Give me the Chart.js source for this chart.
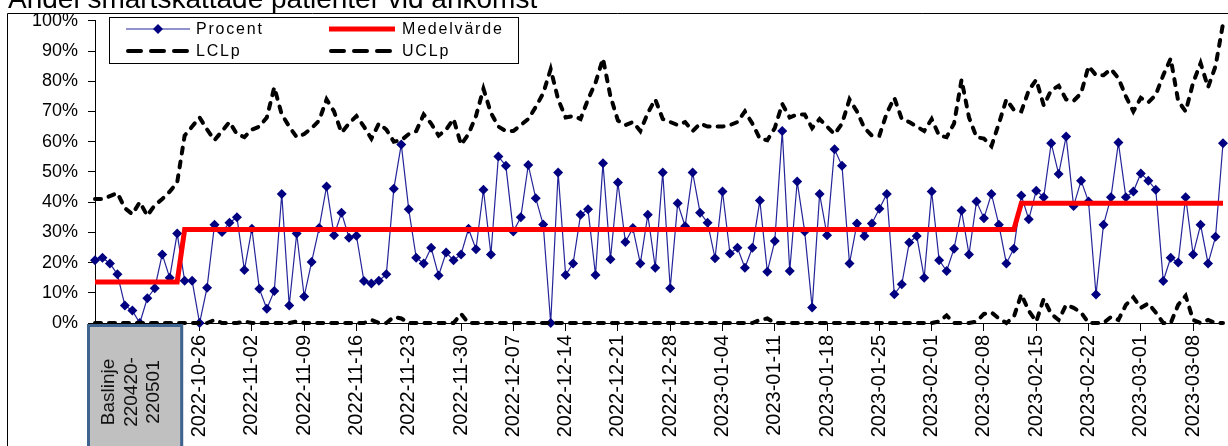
<!DOCTYPE html>
<html>
<head>
<meta charset="utf-8">
<script src="https://cdn.jsdelivr.net/npm/chart.js@4.4.1/dist/chart.umd.min.js"></script>
<style>
  html, body { margin: 0; padding: 0; background: #fff; overflow: hidden; }
  #c { display: block; }
</style>
</head>
<body>
<canvas id="c" width="1228" height="446"></canvas>
<script>
// baseline days (one group on the axis) followed by the daily measurements
const baselineDays = ['220420', '220421', '220422', '220423', '220424', '220425', '220426', '220427', '220428', '220429', '220430', '220501'];
const days = [
  '2022-10-24', '2022-10-25', '2022-10-26', '2022-10-27', '2022-10-28', '2022-10-29', '2022-10-30', '2022-10-31',
  '2022-11-01', '2022-11-02', '2022-11-03', '2022-11-04', '2022-11-05', '2022-11-06', '2022-11-07', '2022-11-08', '2022-11-09', '2022-11-10',
  '2022-11-11', '2022-11-12', '2022-11-13', '2022-11-14', '2022-11-15', '2022-11-16', '2022-11-17', '2022-11-18', '2022-11-19', '2022-11-20',
  '2022-11-21', '2022-11-22', '2022-11-23', '2022-11-24', '2022-11-25', '2022-11-26', '2022-11-27', '2022-11-28', '2022-11-29', '2022-11-30',
  '2022-12-01', '2022-12-02', '2022-12-03', '2022-12-04', '2022-12-05', '2022-12-06', '2022-12-07', '2022-12-08', '2022-12-09', '2022-12-10',
  '2022-12-11', '2022-12-12', '2022-12-13', '2022-12-14', '2022-12-15', '2022-12-16', '2022-12-17', '2022-12-18', '2022-12-19', '2022-12-20',
  '2022-12-21', '2022-12-22', '2022-12-23', '2022-12-24', '2022-12-25', '2022-12-26', '2022-12-27', '2022-12-28', '2022-12-29', '2022-12-30', '2022-12-31',
  '2023-01-01', '2023-01-02', '2023-01-03', '2023-01-04', '2023-01-05', '2023-01-06', '2023-01-07', '2023-01-08', '2023-01-09', '2023-01-10',
  '2023-01-11', '2023-01-12', '2023-01-13', '2023-01-14', '2023-01-15', '2023-01-16', '2023-01-17', '2023-01-18', '2023-01-19', '2023-01-20',
  '2023-01-21', '2023-01-22', '2023-01-23', '2023-01-24', '2023-01-25', '2023-01-26', '2023-01-27', '2023-01-28', '2023-01-29', '2023-01-30', '2023-01-31',
  '2023-02-01', '2023-02-02', '2023-02-03', '2023-02-04', '2023-02-05', '2023-02-06', '2023-02-07', '2023-02-08', '2023-02-09', '2023-02-10',
  '2023-02-11', '2023-02-12', '2023-02-13', '2023-02-14', '2023-02-15', '2023-02-16', '2023-02-17', '2023-02-18', '2023-02-19', '2023-02-20',
  '2023-02-21', '2023-02-22', '2023-02-23', '2023-02-24', '2023-02-25', '2023-02-26', '2023-02-27', '2023-02-28',
  '2023-03-01', '2023-03-02', '2023-03-03', '2023-03-04', '2023-03-05', '2023-03-06', '2023-03-07', '2023-03-08', '2023-03-09', '2023-03-10',
  '2023-03-11', '2023-03-12'
];
const categories = baselineDays.concat(days);

// dates that get a label on the x axis
const tickLabels = [
  '2022-10-26', '2022-11-02', '2022-11-09', '2022-11-16', '2022-11-23', '2022-11-30', '2022-12-07', '2022-12-14',
  '2022-12-21', '2022-12-28', '2023-01-04', '2023-01-11', '2023-01-18', '2023-01-25', '2023-02-01', '2023-02-08',
  '2023-02-15', '2023-02-22', '2023-03-01', '2023-03-08'
];
const baselineTitle = ['Baslinje', '220420-', '220501'];
const yTicks = [0, 10, 20, 30, 40, 50, 60, 70, 80, 90, 100];

const procent = [
  20.8, 21.6, 19.7, 16.1, 5.8, 4.1, 0, 8.2, 11.5, 22.7,
  15.0, 29.6, 14.0, 14.0, 0, 11.7, 32.5, 30.1, 33.2, 35.0,
  17.5, 31.2, 11.3, 4.7, 10.6, 42.7, 5.8, 29.6, 8.8, 20.2,
  31.4, 45.2, 29.0, 36.5, 28.2, 28.9, 13.9, 13.1, 14.0, 16.1,
  44.4, 59.1, 37.6, 21.6, 19.7, 24.9, 15.7, 23.3, 20.8, 22.7,
  31.2, 24.4, 44.1, 22.7, 55.1, 52.0, 30.3, 35.0, 52.3, 41.3,
  32.6, 0, 49.8, 15.9, 19.7, 35.8, 37.6, 15.9, 52.9, 21.1,
  46.5, 26.8, 31.4, 19.7, 35.8, 18.3, 49.8, 11.5, 39.6, 32.0,
  49.8, 36.5, 33.2, 21.4, 43.5, 23.0, 24.9, 18.3, 24.9, 40.5,
  17.0, 27.1, 63.5, 17.2, 46.8, 30.3, 5.1, 42.7, 29.0, 57.5,
  52.0, 19.7, 32.9, 28.8, 32.9, 37.8, 42.7, 9.5, 12.8, 26.6,
  28.8, 15.0, 43.5, 20.8, 17.2, 24.6, 37.2, 22.7, 40.2, 34.7,
  42.7, 32.5, 19.7, 24.6, 42.2, 34.3, 43.8, 41.6, 59.5, 49.3,
  61.7, 38.7, 47.1, 40.2, 9.4, 32.5, 41.6, 59.7, 41.6, 43.5,
  49.5, 47.1, 44.1, 13.9, 21.6, 20.0, 41.6, 22.7, 32.5, 19.7, 28.5, 59.5
];

const medelvarde = [
  13.6, 13.6, 13.6, 13.6, 13.6, 13.6, 13.6, 13.6, 13.6, 13.6,
  13.6, 13.6, 30.9, 30.9, 30.9, 30.9, 30.9, 30.9, 30.9, 30.9,
  30.9, 30.9, 30.9, 30.9, 30.9, 30.9, 30.9, 30.9, 30.9, 30.9,
  30.9, 30.9, 30.9, 30.9, 30.9, 30.9, 30.9, 30.9, 30.9, 30.9,
  30.9, 30.9, 30.9, 30.9, 30.9, 30.9, 30.9, 30.9, 30.9, 30.9,
  30.9, 30.9, 30.9, 30.9, 30.9, 30.9, 30.9, 30.9, 30.9, 30.9,
  30.9, 30.9, 30.9, 30.9, 30.9, 30.9, 30.9, 30.9, 30.9, 30.9,
  30.9, 30.9, 30.9, 30.9, 30.9, 30.9, 30.9, 30.9, 30.9, 30.9,
  30.9, 30.9, 30.9, 30.9, 30.9, 30.9, 30.9, 30.9, 30.9, 30.9,
  30.9, 30.9, 30.9, 30.9, 30.9, 30.9, 30.9, 30.9, 30.9, 30.9,
  30.9, 30.9, 30.9, 30.9, 30.9, 30.9, 30.9, 30.9, 30.9, 30.9,
  30.9, 30.9, 30.9, 30.9, 30.9, 30.9, 30.9, 30.9, 30.9, 30.9,
  30.9, 30.9, 30.9, 30.9, 39.6, 39.6, 39.6, 39.6, 39.6, 39.6,
  39.6, 39.6, 39.6, 39.6, 39.6, 39.6, 39.6, 39.6, 39.6, 39.6,
  39.6, 39.6, 39.6, 39.6, 39.6, 39.6, 39.6, 39.6, 39.6, 39.6, 39.6, 39.6
];

const lclp = [
  0, 0, 0, 0, 0, 0, 0, 0, 0, 0,
  0, 0, 0, 0, 0, 0, 1, 0, 0, 0,
  0.5, 0, 0, 0, 0, 0, 0, 0.5, 0, 0,
  0, 0, 0, 0, 0, 0, 0, 1, 0, 0,
  2, 1.5, 0, 0, 0, 0, 0, 0, 0, 3,
  0, 0, 0, 0, 0, 0, 0, 0, 0, 0,
  0, 0, 0, 0, 0, 0, 0, 0, 0, 0,
  0, 0, 0, 0, 0, 0, 0, 0, 0, 0,
  0, 0, 0, 0, 0, 0, 0, 0, 0, 1,
  1.5, 0, 0, 0, 0, 0, 0, 0, 0, 0,
  0, 0, 0, 0, 0, 0, 0, 0, 0, 0,
  0, 0, 0, 0.5, 2.5, 0, 0, 0, 0.5, 3,
  3.5, 1.5, 0, 2, 9.5, 4, 0.5, 8, 3, 1,
  6, 5, 3.5, 0, 0, 0, 2, 1, 6, 8.5,
  5, 6.5, 3.5, 0, 0, 6, 9, 1, 0, 1, 0, 0
];

const uclp = [
  41, 41, 42, 43, 38, 36, 40, 35.5, 39, 41,
  43.5, 46.5, 62, 65, 68, 64, 60.5, 63.5, 66.5, 62.5,
  61.5, 64, 65, 68, 78, 69, 65, 61.5, 62.5, 64.5,
  67, 74, 70, 63, 66, 68.5, 65, 61, 66, 64,
  60, 60.5, 62.5, 63.5, 69, 66, 62, 64, 67.5, 59,
  62.5, 68.5, 77.5, 69.5, 65, 63.5, 63.5, 65.5, 67.5, 71.5,
  76, 84, 74, 68, 68.5, 67.5, 74, 79.5, 87.5, 75,
  67, 65.5, 66.5, 63.5, 69.5, 74, 67.5, 66.5, 65.5, 66.5,
  63.5, 66, 65, 65, 65, 65.5, 66.5, 70, 66, 61,
  60.5, 64.5, 72.5, 68, 69, 69, 64.5, 67.5, 65, 62.5,
  66, 74, 70, 64.5, 62, 62, 69.5, 74.5, 67.5, 66.5,
  65, 63.5, 67.5, 62, 61.5, 66, 80.5, 68, 61.5, 61,
  58.5, 66, 74, 70.5, 70, 77, 80.5, 72, 77, 78.5,
  74, 73.5, 76, 85, 82, 82, 84, 81, 75, 70,
  74.5, 73, 75.5, 82, 87.5, 73.5, 70, 79.5, 86, 78, 85, 99
];

const FONT = "'Liberation Sans', Arial, sans-serif";

// title (partly above the picture), outer frame, legend and the baseline group label
const decorations = {
  id: 'decorations',
  afterDraw(chart) {
    const ctx = chart.ctx;
    const area = chart.chartArea;
    const x = chart.scales.x;
    ctx.save();

    ctx.fillStyle = '#000';
    ctx.font = '28px ' + FONT;
    ctx.textBaseline = 'alphabetic';
    ctx.fillText('Andel smärtskattade patienter vid ankomst', 8, 8);

    ctx.strokeStyle = '#000';
    ctx.lineWidth = 1;
    ctx.beginPath();
    ctx.moveTo(7.5, 460);
    ctx.lineTo(7.5, 13.5);
    ctx.lineTo(1228, 13.5);
    ctx.stroke();

    // baseline box under the first categories
    const bx0 = x.getPixelForValue(0) - 8;
    const bx1 = x.getPixelForValue(baselineDays.length - 1) + 6;
    ctx.fillStyle = '#c0c0c0';
    ctx.fillRect(bx0, area.bottom + 1, bx1 - bx0, 140);
    ctx.strokeStyle = '#3f638f';
    ctx.lineWidth = 3;
    ctx.strokeRect(bx0 + 1.5, area.bottom + 2.5, bx1 - bx0 - 3, 140);
    ctx.fillStyle = '#111';
    ctx.font = '19px ' + FONT;
    ctx.textAlign = 'center';
    ctx.textBaseline = 'middle';
    baselineTitle.forEach((line, i) => {
      ctx.save();
      ctx.translate(109 + i * 22.5, 392);
      ctx.rotate(-Math.PI / 2);
      ctx.fillText(line, 0, 0);
      ctx.restore();
    });

    // legend
    const lx = 109.5, ly = 17.5, lw = 409, lh = 46;
    ctx.fillStyle = '#fff';
    ctx.fillRect(lx, ly, lw, lh);
    ctx.strokeStyle = '#000';
    ctx.lineWidth = 1;
    ctx.strokeRect(lx, ly, lw, lh);

    const rows = [29, 51];
    const cols = [[126, 190, 196], [329, 395, 402]];
    const sets = chart.data.datasets;
    sets.forEach((ds, i) => {
      const [s0, s1, tx] = cols[i % 2];
      const y = rows[Math.floor(i / 2)];
      ctx.save();
      ctx.strokeStyle = ds.borderColor;
      ctx.lineWidth = ds.borderWidth;
      ctx.lineCap = ds.borderDash ? 'round' : 'butt';
      ctx.setLineDash(ds.borderDash ? [13, 10] : []);
      ctx.beginPath();
      ctx.moveTo(s0 + (ds.borderDash ? 2 : 0), y);
      ctx.lineTo(s1, y);
      ctx.stroke();
      ctx.restore();
      if (ds.pointRadius) {
        const cx = (s0 + s1) / 2;
        const r = ds.pointRadius;
        ctx.fillStyle = ds.pointBackgroundColor;
        ctx.beginPath();
        ctx.moveTo(cx, y - r); ctx.lineTo(cx + r, y); ctx.lineTo(cx, y + r); ctx.lineTo(cx - r, y);
        ctx.closePath();
        ctx.fill();
      }
      ctx.fillStyle = '#000';
      ctx.font = '16px ' + FONT;
      ctx.letterSpacing = '1.8px';
      ctx.textAlign = 'left';
      ctx.textBaseline = 'middle';
      ctx.fillText(ds.label, tx, y + 1);
      ctx.letterSpacing = '0px';
    });

    ctx.restore();
  }
};

new Chart(document.getElementById('c'), {
  type: 'line',
  data: {
    labels: categories,
    datasets: [
      {
        label: 'Procent', data: procent, borderColor: '#24249a', borderWidth: 1.2,
        pointStyle: 'rectRot', pointRadius: 5, pointBackgroundColor: '#000080',
        pointBorderColor: '#000080', pointBorderWidth: 0, order: 4, clip: 8
      },
      { label: 'Medelvärde', data: medelvarde, borderColor: '#ff0000', borderWidth: 5, pointRadius: 0, order: 3, clip: 8 },
      {
        label: 'LCLp', data: lclp, borderColor: '#000', borderWidth: 4, borderDash: [6, 8],
        borderCapStyle: 'round', pointRadius: 0, order: 2, clip: 8
      },
      {
        label: 'UCLp', data: uclp, borderColor: '#000', borderWidth: 4, borderDash: [6, 8],
        borderCapStyle: 'round', pointRadius: 0, order: 1, clip: 8
      }
    ]
  },
  options: {
    responsive: false,
    animation: false,
    layout: { padding: { top: 19, right: 4, left: 0, bottom: 0 } },
    plugins: { legend: { display: false }, tooltip: { enabled: false } },
    scales: {
      x: {
        type: 'category',
        offset: false,
        border: { color: '#000', width: 1 },
        grid: {
          drawOnChartArea: false,
          tickLength: 8,
          color: c => tickLabels.includes(categories[c.index]) ? '#000' : 'rgba(0,0,0,0)'
        },
        ticks: {
          autoSkip: false,
          minRotation: 90,
          maxRotation: 90,
          padding: 4,
          color: '#000',
          font: { family: FONT, size: 20 },
          callback(value) {
            const lab = this.getLabelForValue(value);
            return tickLabels.includes(lab) ? lab : '';
          }
        },
        afterFit(s) {
          s.height = 123;
          s.paddingLeft = 0;
          s.paddingRight = 0;
        }
      },
      y: {
        min: 0,
        max: 100,
        border: { color: '#000', width: 1 },
        grid: { drawOnChartArea: false, tickLength: 7, color: '#000' },
        afterBuildTicks(s) {
          s.ticks = yTicks.map(v => ({ value: v }));
        },
        ticks: {
          padding: 10,
          color: '#000',
          font: { family: FONT, size: 18 },
          callback: v => v + '%'
        },
        afterFit(s) {
          s.width = 95;
        }
      }
    }
  },
  plugins: [decorations]
});
</script>
</body>
</html>
